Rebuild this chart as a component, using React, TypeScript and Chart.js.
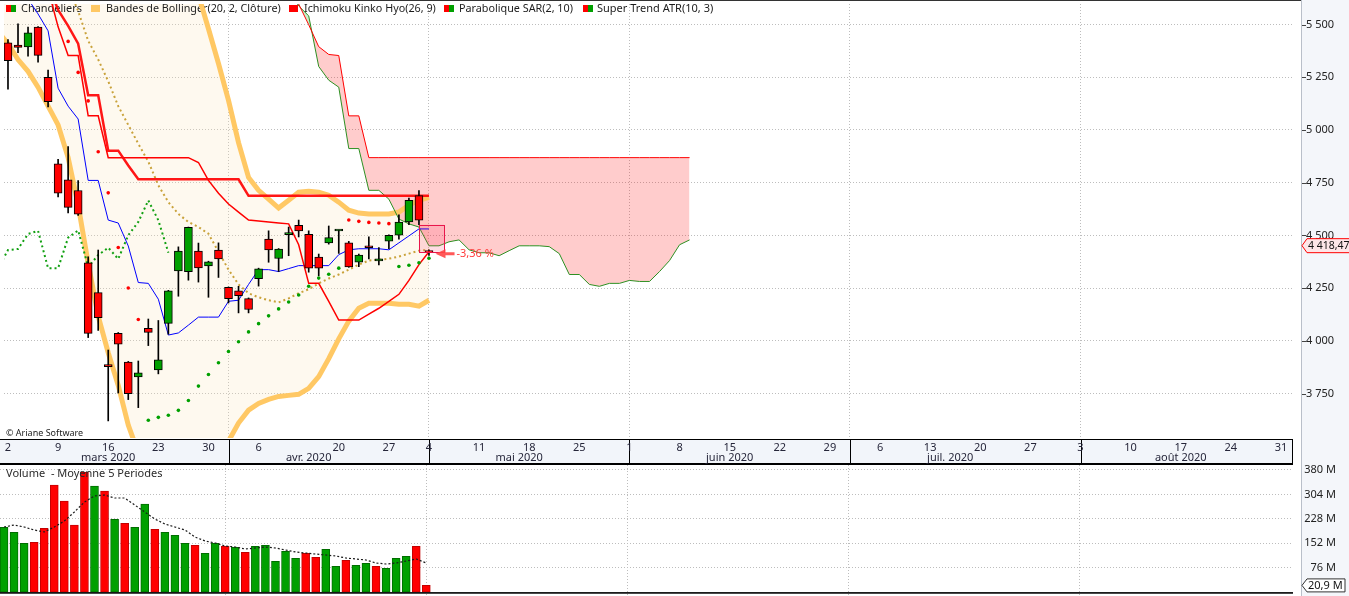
import React, { useEffect, useRef } from 'react';
import { Chart, registerables } from 'chart.js';

Chart.register(...registerables);

// ---------- page geometry ----------
const W = 1349;
const PRICE_H = 465;
const VOL_H = 131;
const AXIS_W = 56;
const BAND_H = 27;
const X_MIN = -0.398;
const X_MAX = 128.2;
const FONT = "'Noto Sans', 'DejaVu Sans', sans-serif";

// ---------- data: CAC 40 daily candles, 2 mars 2020 -> 4 mai 2020 (index = trading day) ----------
const opens = [5413, 5403, 5394, 5488, 5250, 4840, 4764, 4713, 4370, 4229, 3884, 4036, 3900, 3830, 4060, 3863, 4083, 4332, 4328, 4426, 4356, 4431, 4254, 4238, 4201, 4295, 4483, 4391, 4504, 4548, 4506, 4398, 4465, 4521, 4465, 4373, 4445, 4379, 4473, 4501, 4564, 4689, 4420];
const highs = [5428, 5503, 5488, 5490, 5284, 4861, 4921, 4760, 4399, 4431, 3957, 4040, 3903, 3905, 4104, 4097, 4240, 4446, 4540, 4464, 4378, 4465, 4256, 4259, 4204, 4345, 4522, 4438, 4540, 4573, 4522, 4412, 4545, 4525, 4472, 4412, 4493, 4443, 4503, 4598, 4677, 4713, 4432];
const lows = [5193, 5366, 5350, 5322, 5109, 4683, 4607, 4595, 4016, 4050, 3621, 3753, 3722, 3684, 3978, 3844, 4032, 4212, 4288, 4279, 4207, 4301, 4180, 4133, 4133, 4260, 4373, 4329, 4404, 4493, 4326, 4309, 4459, 4415, 4349, 4352, 4389, 4360, 4438, 4483, 4551, 4551, 4405];
const closes = [5328, 5391, 5460, 5354, 5134, 4701, 4633, 4601, 4036, 4110, 3878, 3985, 3750, 3849, 4041, 3910, 4238, 4426, 4539, 4346, 4375, 4389, 4201, 4215, 4149, 4342, 4431, 4436, 4507, 4522, 4345, 4345, 4490, 4524, 4351, 4407, 4442, 4389, 4501, 4564, 4666, 4572.18, 4418.47];
const prevClose = 5309.9;

// volume in millions
const volumes = [201.6, 186, 151.8, 154.9, 198.5, 333, 283, 208.7, 372.6, 330, 314.5, 226.5, 214, 201.6, 274, 195.3, 186, 176.7, 151.8, 145.6, 120.7, 151.8, 142.5, 139.4, 123.8, 142.5, 145.6, 95.8, 126.9, 105.2, 120.7, 108.3, 133.1, 80.3, 98.9, 83.4, 89.6, 80.3, 74, 105.2, 111.4, 142.5, 20.9];
const volumeMA = [202.5, 208.7, 202.5, 193.2, 187.0, 202.5, 221.2, 249.2, 280.3, 299.0, 302.1, 292.7, 292.7, 271.0, 249.2, 227.4, 211.9, 202.5, 193.2, 171.4, 159.0, 152.7, 143.4, 140.3, 134.1, 137.2, 140.3, 137.2, 131.0, 124.8, 121.6, 118.5, 115.4, 112.3, 106.1, 103.0, 99.8, 90.5, 87.4, 90.5, 96.7, 103.0, 90.5];

// Bollinger (20, 2) — start index -1
const BOLL_START = -1;
const bollUpper = [6400, 6420, 6440, 6460, 6480, 6500, 6500, 6490, 6480, 6480, 6550, 6520, 6440, 6450, 6400, 6280, 6080, 5910, 5790, 5710, 5640, 5480, 5315, 5140, 4940, 4775, 4714, 4672, 4630, 4667, 4705, 4710, 4705, 4691, 4658, 4620, 4606, 4602, 4602, 4602, 4611, 4644, 4667, 4681];
const bollLower = [5466, 5409, 5334, 5278, 5203, 5113, 5024, 4869, 4644, 4367, 4118, 3944, 3789, 3601, 3470, 3420, 3400, 3410, 3440, 3470, 3500, 3525, 3528, 3525, 3611, 3672, 3704, 3723, 3737, 3742, 3747, 3775, 3831, 3916, 4010, 4094, 4155, 4179, 4179, 4179, 4174, 4174, 4165, 4193];
const MID_START = 0;
const bollMiddle = [5960, 5940, 5910, 5870, 5820, 5760, 5680, 5564, 5423, 5334, 5231, 5113, 5024, 4935, 4850, 4738, 4658, 4602, 4564, 4540, 4508, 4423, 4338, 4268, 4226, 4207, 4193, 4183, 4202, 4226, 4245, 4273, 4296, 4315, 4338, 4362, 4381, 4385, 4390, 4400, 4414, 4428, 4432];

// Ichimoku (26, 9)
const TENKAN_START = 2;
const tenkan = [5621, 5550, 5470, 5198, 5113, 5052, 4761, 4761, 4573, 4559, 4450, 4277, 4273, 4198, 4028, 4038, 4075, 4113, 4113, 4113, 4188, 4193, 4268, 4338, 4338, 4329, 4343, 4357, 4357, 4357, 4357, 4409, 4432, 4437, 4437, 4437, 4432, 4465, 4498, 4531, 4531];
const KIJUN_START = 4;
const kijun = [5668, 5489, 5353, 5353, 5067, 5067, 4869, 4869, 4869, 4869, 4869, 4869, 4869, 4869, 4869, 4846, 4761, 4700, 4649, 4611, 4573, 4569, 4564, 4559, 4555, 4456, 4273, 4273, 4188, 4099, 4099, 4099, 4127, 4155, 4188, 4221, 4287, 4362, 4423];
const SENKOU_START = 28;
const senkouA = [5668, 5588, 5541, 5301, 5236, 5203, 4912, 4912, 4714, 4714, 4672, 4578, 4555, 4540, 4451, 4451, 4470, 4479, 4432, 4418, 4418, 4404, 4428, 4451, 4451, 4451, 4447, 4414, 4315, 4315, 4268, 4259, 4273, 4273, 4287, 4282, 4282, 4329, 4381, 4456, 4479];
const senkouB = [5738, 5597, 5499, 5395, 5358, 5353, 5067, 5067, 4869, 4869, 4869, 4869, 4869, 4869, 4869, 4869, 4869, 4869, 4869, 4869, 4869, 4869, 4869, 4869, 4869, 4869, 4869, 4869, 4869, 4869, 4869, 4869, 4869, 4869, 4869, 4869, 4869, 4869, 4869, 4869, 4869];
const CHIKOU_START = -1;
const chikou = [4342, 4431, 4436, 4507, 4522, 4345, 4345, 4490, 4524, 4351, 4407, 4442, 4389, 4501, 4564, 4666, 4572.18, 4418.47];

// Parabolic SAR (2, 10)
const SAR_START = 6;
const sar = [5420, 5273, 5138, 4897, 4702, 4443, 4251, 4102, 3624, 3638, 3648, 3671, 3718, 3786, 3841, 3897, 3950, 3996, 4043, 4082, 4119, 4152, 4185, 4218, 4259, 4298, 4316, 4345, 4573, 4567, 4562, 4559, 4556, 4353, 4359, 4371, 4392];

// Super Trend ATR (10, 3)
const ST_START = 4;
const superTrend = [5691, 5569, 5494, 5409, 5165, 5165, 4902, 4902, 4832, 4766, 4766, 4766, 4766, 4766, 4766, 4766, 4766, 4766, 4766, 4766, 4688, 4688, 4688, 4688, 4688, 4688, 4688, 4688, 4688, 4688, 4688, 4688, 4688, 4688, 4688, 4688, 4688, 4688, 4688];

// axes
const priceTicks = [3750, 4000, 4250, 4500, 4750, 5000, 5250, 5500];
const volumeTicks = [76, 152, 228, 304, 380];
const dayTickIdx = [0, 5, 10, 15, 20, 25, 33, 38, 42, 47, 52, 57, 62, 67, 72, 77, 82, 87, 92, 97, 102, 107, 112, 117, 122, 127];
const dayTickLabels = ['2', '9', '16', '23', '30', '6', '20', '27', '4', '11', '18', '25', '1', '8', '15', '22', '29', '6', '13', '20', '27', '3', '10', '17', '24', '31'];
const monthStartIdx = [22, 42, 62, 84, 107];
const monthLabelIdx = [10, 30, 51, 72, 94, 117];
const monthLabels = ['mars 2020', 'avr. 2020', 'mai 2020', 'juin 2020', 'juil. 2020', 'août 2020'];

// last-quote annotations
const lastPrice = 4418.47;
const lastPriceLabel = '4 418,47';
const lastChangeLabel = '-3,36 %';
const gapTop = 4551;
const gapBottom = 4423;
const gapFromIdx = 41.0;
const gapToIdx = 43.5;
const arrowFromIdx = 42.65;
const arrowToIdx = 44.55;
const lastVolume = 20.9;
const lastVolumeLabel = '20,9 M';

// ---------- colours ----------
const RED = '#ff0000';
const GREEN = '#00a000';
const GRID = '#bdbdbd';
const AXIS_BG = '#f4f6fa';
const TEXT = '#222222';

const fmtPrice = (v: number) => String(v).replace(/\B(?=(\d{3})+(?!\d))/g, ' ');
const pts = (arr: number[], start: number) => arr.map((v, i) => ({ x: start + i, y: v }));

const legendItems = [
  { sx: 6, colors: [RED, GREEN], tx: 21, tw: 61, text: 'Chandeliers' },
  { sx: 91, colors: ['#ffc864'], tx: 106, tw: 175, text: 'Bandes de Bollinger(20, 2, Clôture)' },
  { sx: 289, colors: [RED], tx: 304, tw: 132, text: 'Ichimoku Kinko Hyo(26, 9)' },
  { sx: 444, colors: [RED, GREEN], tx: 459, tw: 114, text: 'Parabolique SAR(2, 10)' },
  { sx: 583, colors: [RED, GREEN], tx: 597, tw: 117, text: 'Super Trend ATR(10, 3)' },
];

function xScaleConfig(height: number) {
  return {
    type: 'linear',
    min: X_MIN,
    max: X_MAX,
    offset: false,
    grid: { offset: false, drawTicks: false, color: GRID, lineWidth: 1 },
    border: { display: false, dash: [1, 2] },
    ticks: { display: false, autoSkip: false },
    afterBuildTicks: (s: any) => {
      s.ticks = monthStartIdx.map((v) => ({ value: v }));
    },
    afterFit: (s: any) => {
      s.height = height;
      s.paddingLeft = 0;
      s.paddingRight = 0;
      s.paddingTop = 0;
      s.paddingBottom = 0;
    },
  };
}

function drawAxisStrip(chart: any, h: number) {
  const ctx = chart.ctx;
  const ax = chart.chartArea.right;
  ctx.save();
  ctx.fillStyle = '#ffffff';
  ctx.fillRect(0, 0, W, h);
  ctx.fillStyle = AXIS_BG;
  ctx.fillRect(ax + 9, 0, W - ax - 9, h);
  ctx.fillStyle = '#b9bfc9';
  ctx.fillRect(ax + 8, 0, 1, h);
  ctx.restore();
}

const pricePanePlugin = {
  id: 'pricePane',
  beforeDraw(chart: any) {
    drawAxisStrip(chart, PRICE_H);
  },
  beforeDatasetsDraw(chart: any) {
    const ctx = chart.ctx;
    ctx.save();
    ctx.textBaseline = 'middle';
    ctx.textAlign = 'left';
    for (const it of legendItems) {
      if (it.colors.length === 2) {
        ctx.fillStyle = it.colors[0];
        ctx.fillRect(it.sx, 5, 5, 7);
        ctx.fillStyle = it.colors[1];
        ctx.fillRect(it.sx + 5, 5, 5, 7);
      } else {
        ctx.fillStyle = it.colors[0];
        ctx.fillRect(it.sx, 5, 9, 7);
      }
      // pick the font size that gives the legend label its reference width
      let size = 11;
      ctx.font = `${size}px ${FONT}`;
      const w = ctx.measureText(it.text).width;
      if (w > it.tw) {
        size = Math.max(9, (11 * it.tw) / w);
        ctx.font = `${size.toFixed(2)}px ${FONT}`;
      }
      ctx.fillStyle = '#1c1c1c';
      ctx.fillText(it.text, it.tx, 8.5);
    }
    ctx.restore();
  },
  afterDatasetsDraw(chart: any) {
    const ctx = chart.ctx;
    const xs = chart.scales.x;
    const ys = chart.scales.y;
    ctx.save();
    // gap box
    const gx1 = xs.getPixelForValue(gapFromIdx);
    const gx2 = xs.getPixelForValue(gapToIdx);
    const gy1 = ys.getPixelForValue(gapTop);
    const gy2 = ys.getPixelForValue(gapBottom);
    ctx.fillStyle = 'rgba(255,40,90,0.16)';
    ctx.fillRect(gx1, gy1, gx2 - gx1, gy2 - gy1);
    ctx.strokeStyle = '#e8174c';
    ctx.lineWidth = 1;
    ctx.strokeRect(Math.round(gx1) + 0.5, Math.round(gy1) + 0.5, Math.round(gx2 - gx1), Math.round(gy2 - gy1));
    // arrow
    const yl = ys.getPixelForValue(lastPrice) + 1;
    const xa = xs.getPixelForValue(arrowFromIdx);
    const xb = xs.getPixelForValue(arrowToIdx);
    ctx.fillStyle = 'rgba(255,70,70,0.9)';
    ctx.beginPath();
    ctx.moveTo(xa, yl);
    ctx.lineTo(xa + 10, yl - 4.5);
    ctx.lineTo(xa + 10, yl - 1.5);
    ctx.lineTo(xb, yl - 1.5);
    ctx.lineTo(xb, yl + 1.5);
    ctx.lineTo(xa + 10, yl + 1.5);
    ctx.lineTo(xa + 10, yl + 4.5);
    ctx.closePath();
    ctx.fill();
    ctx.fillStyle = '#ff3b3b';
    ctx.font = `11px ${FONT}`;
    ctx.textAlign = 'left';
    ctx.textBaseline = 'middle';
    ctx.fillText(lastChangeLabel, xb + 2, yl);
    ctx.restore();
  },
  afterDraw(chart: any) {
    const ctx = chart.ctx;
    const xs = chart.scales.x;
    const ys = chart.scales.y;
    const area = chart.chartArea;
    const ax = area.right;
    ctx.save();
    // top border
    ctx.fillStyle = '#333333';
    ctx.fillRect(0, 0, ax + 8, 1);
    // copyright
    ctx.font = `9px ${FONT}`;
    ctx.fillStyle = TEXT;
    ctx.textAlign = 'left';
    ctx.textBaseline = 'middle';
    ctx.fillText('© Ariane Software', 6, area.bottom - 5);
    // date band
    const top = area.bottom + 1;
    ctx.fillStyle = '#f2f5fa';
    ctx.fillRect(0, top, ax, 24);
    ctx.fillStyle = '#000000';
    ctx.fillRect(0, top, ax, 1);
    ctx.fillRect(0, top + 24, ax, 2);
    ctx.fillRect(ax - 1, top, 1, 25);
    for (const m of monthStartIdx) {
      const px = Math.round(xs.getPixelForValue(m));
      ctx.fillRect(px, top, 1, 24);
    }
    ctx.font = `11px ${FONT}`;
    ctx.fillStyle = '#26263a';
    ctx.textAlign = 'center';
    ctx.textBaseline = 'middle';
    dayTickIdx.forEach((d, i) => {
      ctx.fillText(dayTickLabels[i], xs.getPixelForValue(d), top + 9);
    });
    monthLabelIdx.forEach((d, i) => {
      ctx.fillText(monthLabels[i], xs.getPixelForValue(d), top + 19);
    });
    // axis tick dashes
    ctx.fillStyle = '#444444';
    for (const t of priceTicks) {
      const py = Math.round(ys.getPixelForValue(t));
      ctx.fillRect(ax + 9, py, 4, 1);
    }
    // last price tag
    const cy = ys.getPixelForValue(lastPrice) - 7;
    const tip = ax + 9;
    ctx.beginPath();
    ctx.moveTo(tip, cy);
    ctx.lineTo(tip + 5, cy - 7);
    ctx.lineTo(W + 2, cy - 7);
    ctx.lineTo(W + 2, cy + 7);
    ctx.lineTo(tip + 5, cy + 7);
    ctx.closePath();
    ctx.fillStyle = '#fde6e8';
    ctx.fill();
    ctx.strokeStyle = '#ff0000';
    ctx.lineWidth = 1;
    ctx.stroke();
    ctx.fillStyle = '#111111';
    ctx.textAlign = 'left';
    ctx.font = `10.5px ${FONT}`;
    ctx.fillText(lastPriceLabel, tip + 6, cy + 0.5);
    ctx.restore();
  },
};

const volumePanePlugin = {
  id: 'volumePane',
  beforeDraw(chart: any) {
    drawAxisStrip(chart, VOL_H);
  },
  afterDraw(chart: any) {
    const ctx = chart.ctx;
    const ys = chart.scales.y;
    const ax = chart.chartArea.right;
    ctx.save();
    ctx.font = `11px ${FONT}`;
    ctx.fillStyle = '#2a2a2a';
    ctx.textAlign = 'left';
    ctx.textBaseline = 'middle';
    ctx.fillText('Volume  - Moyenne 5 Periodes', 6, 8.5);
    // axis labels, right-aligned inside the axis strip, placed by the y scale
    ctx.fillStyle = TEXT;
    ctx.textAlign = 'right';
    for (const t of ys.ticks) {
      ctx.fillText(`${t.value} M`, ax + 43, ys.getPixelForValue(t.value));
    }
    // baseline
    const y0 = ys.getPixelForValue(0);
    ctx.fillStyle = '#000000';
    ctx.fillRect(0, y0, ax, 1.6);
    // last volume tag
    const cy = ys.getPixelForValue(lastVolume);
    const tip = ax + 9;
    ctx.beginPath();
    ctx.moveTo(tip, cy);
    ctx.lineTo(tip + 5, cy - 6.5);
    ctx.lineTo(tip + 43, cy - 6.5);
    ctx.lineTo(tip + 43, cy + 6.5);
    ctx.lineTo(tip + 5, cy + 6.5);
    ctx.closePath();
    ctx.fillStyle = '#ffffff';
    ctx.fill();
    ctx.strokeStyle = '#333333';
    ctx.lineWidth = 1;
    ctx.stroke();
    ctx.fillStyle = '#111111';
    ctx.textAlign = 'left';
    ctx.fillText(lastVolumeLabel, tip + 6, cy + 0.5);
    ctx.restore();
  },
};

export default function App() {
  const priceRef = useRef<HTMLCanvasElement>(null);
  const volRef = useRef<HTMLCanvasElement>(null);

  useEffect(() => {
    Chart.defaults.font.family = FONT;
    Chart.defaults.font.size = 11;
    Chart.defaults.color = TEXT;

    const idx = closes.map((_, i) => i);
    const candleUp = idx.map((i) => closes[i] >= opens[i]);
    const volUp = idx.map((i) => closes[i] > (i === 0 ? prevClose : closes[i - 1]));
    const sarPts = sar.map((v, i) => ({ x: SAR_START + i, v, above: v > closes[SAR_START + i] }));

    const lineBase = { type: 'line', pointRadius: 0, fill: false, tension: 0, clip: 0, spanGaps: true };

    const priceChart = new Chart(priceRef.current as HTMLCanvasElement, {
      type: 'line',
      data: {
        datasets: [
          // 0 lower band
          { ...lineBase, data: pts(bollLower, BOLL_START), borderColor: '#ffc864', borderWidth: 5, order: 20 },
          // 1 upper band (fill to lower)
          {
            ...lineBase,
            data: pts(bollUpper, BOLL_START),
            borderColor: '#ffc864',
            borderWidth: 5,
            fill: { target: 0 },
            backgroundColor: 'rgba(250,230,190,0.25)',
            order: 19,
          },
          // 2 senkou A
          { ...lineBase, data: pts(senkouA, SENKOU_START), borderColor: '#2f8f22', borderWidth: 1, order: 18 },
          // 3 senkou B (cloud)
          {
            ...lineBase,
            data: pts(senkouB, SENKOU_START),
            borderColor: RED,
            borderWidth: 1,
            fill: { target: 2, above: 'rgba(255,0,0,0.2)', below: 'rgba(0,180,0,0.2)' },
            order: 17,
          },
          // 4 middle band
          { ...lineBase, data: pts(bollMiddle, MID_START), borderColor: '#c9a23a', borderWidth: 2, borderDash: [2, 3], order: 16 },
          // 5 chikou
          { ...lineBase, data: pts(chikou, CHIKOU_START), borderColor: '#12a012', borderWidth: 2, borderDash: [2, 3], order: 15 },
          // 6 tenkan
          { ...lineBase, data: pts(tenkan, TENKAN_START), borderColor: '#0000ff', borderWidth: 1, order: 14 },
          // 7 kijun
          { ...lineBase, data: pts(kijun, KIJUN_START), borderColor: RED, borderWidth: 1.5, order: 13 },
          // 8 super trend
          { ...lineBase, data: pts(superTrend, ST_START), borderColor: 'rgba(255,10,10,0.95)', borderWidth: 2.5, order: 12 },
          // 9 SAR red
          {
            ...lineBase,
            showLine: false,
            data: sarPts.map((p) => ({ x: p.x, y: p.above ? p.v : null })),
            pointRadius: 1.8,
            pointBorderWidth: 0,
            pointBackgroundColor: RED,
            order: 11,
          },
          // 10 SAR green
          {
            ...lineBase,
            showLine: false,
            data: sarPts.map((p) => ({ x: p.x, y: p.above ? null : p.v })),
            pointRadius: 1.8,
            pointBorderWidth: 0,
            pointBackgroundColor: GREEN,
            order: 10,
          },
          // 11 wicks
          {
            type: 'bar',
            data: idx.map((i) => ({ x: i, y: [lows[i], highs[i]] })),
            backgroundColor: '#000000',
            barThickness: 1,
            grouped: false,
            borderWidth: 0,
            clip: 0,
            order: 2,
          },
          // 12 bodies
          {
            type: 'bar',
            data: idx.map((i) => ({ x: i, y: [opens[i], closes[i]] })),
            backgroundColor: idx.map((i) => (candleUp[i] ? GREEN : RED)),
            borderColor: '#000000',
            borderWidth: 1,
            borderSkipped: false,
            barThickness: 8,
            minBarLength: 2,
            grouped: false,
            clip: 0,
            order: 1,
          },
        ],
      } as any,
      options: {
        responsive: false,
        devicePixelRatio: 1,
        animation: false,
        events: [],
        layout: { padding: 0 },
        plugins: {
          legend: { display: false },
          tooltip: { enabled: false },
          filler: { drawTime: 'beforeDatasetsDraw' },
        },
        scales: {
          x: xScaleConfig(BAND_H),
          y: {
            type: 'linear',
            position: 'right',
            min: 3540,
            max: 5597.2,
            grid: { drawTicks: false, color: GRID },
            border: { display: false, dash: [1, 2] },
            ticks: { padding: 13, color: TEXT, font: { size: 11 }, callback: (v: any) => fmtPrice(v) },
            afterBuildTicks: (s: any) => {
              s.ticks = priceTicks.map((v) => ({ value: v }));
            },
            afterFit: (s: any) => {
              s.width = AXIS_W;
              s.paddingTop = 0;
              s.paddingBottom = 0;
            },
          },
        },
      } as any,
      plugins: [pricePanePlugin],
    } as any);

    const volChart = new Chart(volRef.current as HTMLCanvasElement, {
      type: 'bar',
      data: {
        datasets: [
          {
            type: 'line',
            data: pts(volumeMA, 0),
            borderColor: '#1a1a1a',
            borderWidth: 1.2,
            borderDash: [2, 2],
            pointRadius: 0,
            fill: false,
            clip: 0,
            order: 0,
          },
          {
            type: 'bar',
            data: idx.map((i) => ({ x: i, y: volumes[i] })),
            backgroundColor: idx.map((i) => (volUp[i] ? GREEN : RED)),
            borderColor: idx.map((i) => (volUp[i] ? '#006d00' : '#c40000')),
            borderWidth: 1,
            borderSkipped: false,
            barThickness: 8,
            grouped: false,
            clip: 0,
            order: 1,
          },
        ],
      } as any,
      options: {
        responsive: false,
        devicePixelRatio: 1,
        animation: false,
        events: [],
        layout: { padding: 0 },
        plugins: { legend: { display: false }, tooltip: { enabled: false } },
        scales: {
          x: xScaleConfig(0),
          y: {
            type: 'linear',
            position: 'right',
            min: -12.1,
            max: 395.4,
            grid: { drawTicks: false, color: GRID },
            border: { display: false, dash: [1, 2] },
            ticks: { display: false },
            afterBuildTicks: (s: any) => {
              s.ticks = volumeTicks.map((v) => ({ value: v }));
            },
            afterFit: (s: any) => {
              s.width = AXIS_W;
              s.paddingTop = 0;
              s.paddingBottom = 0;
            },
          },
        },
      } as any,
      plugins: [volumePanePlugin],
    } as any);

    return () => {
      priceChart.destroy();
      volChart.destroy();
    };
  }, []);

  return (
    <div style={{ position: 'absolute', left: 0, top: 0, width: W, height: PRICE_H + VOL_H, background: '#ffffff', overflow: 'hidden' }}>
      <canvas ref={priceRef} width={W} height={PRICE_H} style={{ position: 'absolute', left: 0, top: 0, width: W, height: PRICE_H }} />
      <canvas ref={volRef} width={W} height={VOL_H} style={{ position: 'absolute', left: 0, top: PRICE_H, width: W, height: VOL_H }} />
    </div>
  );
}
